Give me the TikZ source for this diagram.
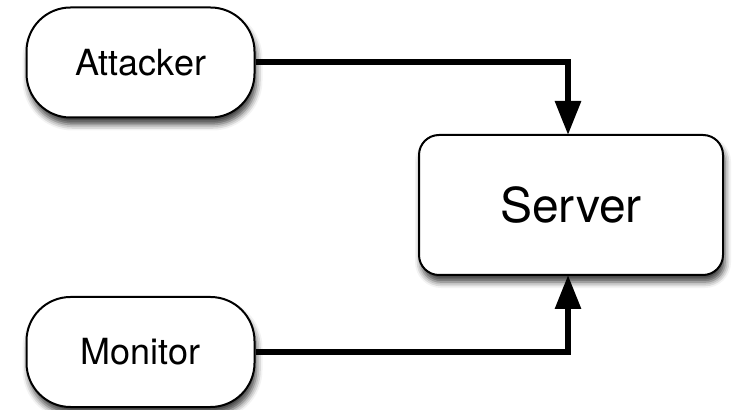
\documentclass[tikz,border=0pt]{standalone}
\usepackage{fontspec}
\setmainfont{TeX Gyre Heros}
\usepackage{tikz}
\usetikzlibrary{arrows.meta,shadows.blur}

\tikzset{
  party/.style={draw,line width=1pt,fill=white,rounded corners=22pt,minimum width=114pt,minimum height=55pt,font=\fontsize{18}{20}\selectfont,
    blur shadow={shadow xshift=1pt,shadow yshift=-3.5pt,shadow blur radius=3pt,shadow opacity=75}},
  hostbox/.style={draw,line width=1pt,fill=white,rounded corners=10pt,minimum width=152pt,minimum height=70pt,font=\fontsize{24}{26}\selectfont,
    blur shadow={shadow xshift=1pt,shadow yshift=-3.5pt,shadow blur radius=3pt,shadow opacity=75}},
  flow/.style={line width=3pt,-{Triangle[width=12.5pt,length=17pt]}}
}

\begin{document}
\begin{tikzpicture}[x=0.5pt,y=-0.5pt]
\useasboundingbox(0,0)rectangle(732,410);
\node[party](att)at(140.5,62.5){Attacker};
\node[party](mon)at(140.5,352){Monitor};
\node[hostbox](srv)at(571,205){Server};
\coordinate(top)at(568,135);\coordinate(bot)at(568,275);
\draw[flow](att.east)-|(top);
\draw[flow](mon.east)-|(bot);
\end{tikzpicture}
\end{document}
